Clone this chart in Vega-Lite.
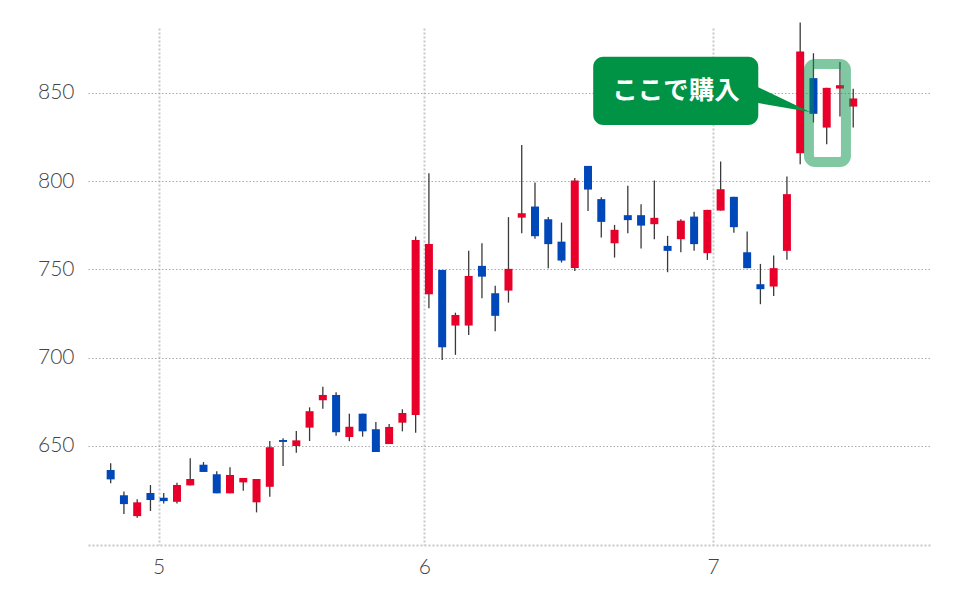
{
  "$schema": "https://vega.github.io/schema/vega-lite/v6.json",
  "width": 842,
  "height": 517,
  "autosize": {"type": "none"},
  "padding": {"left": 88, "top": 28, "right": 30, "bottom": 55},
  "background": "white",
  "config": {"view": {"stroke": null}, "font": "Lato"},
  "data": {"values": [
    {"i": 0, "o": 636.4, "c": 631.1, "h": 640.2, "l": 628.9},
    {"i": 1, "o": 622.1, "c": 617.1, "h": 624.3, "l": 611.5},
    {"i": 2, "o": 610.3, "c": 618.1, "h": 619.8, "l": 609.4},
    {"i": 3, "o": 623.4, "c": 619.4, "h": 627.9, "l": 613.2},
    {"i": 4, "o": 620.7, "c": 618.8, "h": 623.4, "l": 617.5},
    {"i": 5, "o": 618.4, "c": 627.9, "h": 629.2, "l": 617.5},
    {"i": 6, "o": 627.7, "c": 631.3, "h": 643.0, "l": 627.7},
    {"i": 7, "o": 639.4, "c": 635.3, "h": 640.9, "l": 635.3},
    {"i": 8, "o": 634.0, "c": 623.2, "h": 635.7, "l": 623.2},
    {"i": 9, "o": 623.2, "c": 633.6, "h": 637.9, "l": 623.2},
    {"i": 10, "o": 629.4, "c": 631.9, "h": 631.9, "l": 624.7},
    {"i": 11, "o": 618.1, "c": 631.3, "h": 631.3, "l": 612.4},
    {"i": 12, "o": 626.9, "c": 649.3, "h": 652.8, "l": 621.3},
    {"i": 13, "o": 653.4, "c": 652.3, "h": 654.4, "l": 638.7},
    {"i": 14, "o": 650.0, "c": 653.2, "h": 658.5, "l": 646.2},
    {"i": 15, "o": 660.4, "c": 669.7, "h": 671.9, "l": 652.8},
    {"i": 16, "o": 675.9, "c": 678.9, "h": 683.6, "l": 671.1},
    {"i": 17, "o": 678.9, "c": 657.8, "h": 680.4, "l": 655.8},
    {"i": 18, "o": 655.1, "c": 660.9, "h": 668.3, "l": 652.7},
    {"i": 19, "o": 668.3, "c": 658.3, "h": 668.3, "l": 655.3},
    {"i": 20, "o": 659.5, "c": 646.6, "h": 663.6, "l": 646.6},
    {"i": 21, "o": 651.1, "c": 660.8, "h": 662.5, "l": 651.1},
    {"i": 22, "o": 663.2, "c": 668.7, "h": 670.8, "l": 658.3},
    {"i": 23, "o": 667.6, "c": 766.7, "h": 768.6, "l": 657.5},
    {"i": 24, "o": 735.9, "c": 764.4, "h": 804.5, "l": 728.0},
    {"i": 25, "o": 749.7, "c": 705.9, "h": 749.7, "l": 698.7},
    {"i": 26, "o": 718.2, "c": 724.2, "h": 725.5, "l": 701.6},
    {"i": 27, "o": 718.2, "c": 746.3, "h": 760.6, "l": 712.9},
    {"i": 28, "o": 752.0, "c": 745.9, "h": 764.8, "l": 733.7},
    {"i": 29, "o": 736.5, "c": 723.7, "h": 740.8, "l": 715.0},
    {"i": 30, "o": 738.0, "c": 750.3, "h": 779.6, "l": 731.2},
    {"i": 31, "o": 779.3, "c": 781.8, "h": 820.5, "l": 770.5},
    {"i": 32, "o": 785.6, "c": 768.8, "h": 799.2, "l": 767.3},
    {"i": 33, "o": 778.4, "c": 764.3, "h": 779.6, "l": 750.7},
    {"i": 34, "o": 765.7, "c": 755.0, "h": 776.5, "l": 753.9},
    {"i": 35, "o": 750.8, "c": 800.3, "h": 801.7, "l": 749.1},
    {"i": 36, "o": 808.6, "c": 795.2, "h": 808.6, "l": 783.0},
    {"i": 37, "o": 789.8, "c": 776.9, "h": 790.9, "l": 768.0},
    {"i": 38, "o": 764.8, "c": 772.4, "h": 775.2, "l": 756.7},
    {"i": 39, "o": 780.7, "c": 777.9, "h": 797.3, "l": 770.5},
    {"i": 40, "o": 780.7, "c": 774.8, "h": 786.9, "l": 761.8},
    {"i": 41, "o": 775.6, "c": 779.2, "h": 800.3, "l": 767.1},
    {"i": 42, "o": 763.3, "c": 760.5, "h": 769.0, "l": 748.4},
    {"i": 43, "o": 767.1, "c": 777.6, "h": 778.4, "l": 759.7},
    {"i": 44, "o": 779.9, "c": 764.3, "h": 782.6, "l": 760.5},
    {"i": 45, "o": 759.2, "c": 783.7, "h": 783.7, "l": 755.4},
    {"i": 46, "o": 783.3, "c": 795.4, "h": 811.1, "l": 783.3},
    {"i": 47, "o": 791.1, "c": 773.9, "h": 791.1, "l": 770.8},
    {"i": 48, "o": 759.7, "c": 750.7, "h": 771.4, "l": 750.7},
    {"i": 49, "o": 741.6, "c": 738.8, "h": 753.1, "l": 730.3},
    {"i": 50, "o": 740.3, "c": 750.7, "h": 757.8, "l": 735.0},
    {"i": 51, "o": 760.5, "c": 792.6, "h": 802.6, "l": 755.4},
    {"i": 52, "o": 815.8, "c": 873.4, "h": 889.8, "l": 809.6},
    {"i": 53, "o": 858.3, "c": 838.1, "h": 872.4, "l": 833.2},
    {"i": 54, "o": 830.3, "c": 852.8, "h": 852.8, "l": 820.9},
    {"i": 55, "o": 852.4, "c": 854.3, "h": 867.4, "l": 836.6},
    {"i": 56, "o": 842.2, "c": 846.8, "h": 852.3, "l": 830.3}
  ]},
  "layer": [
    {
      "mark": {"type": "rule", "color": "#3a3a3a", "strokeWidth": 1.3, "clip": false},
      "encoding": {
        "x": {"field": "i", "type": "quantitative", "title": null,
          "scale": {"domain": [-1.71, 61.79], "nice": false, "zero": false, "padding": 0},
          "axis": {"values": [3.62, 23.65, 45.44],
            "labelExpr": "datum.value < 10 ? '5' : (datum.value < 30 ? '6' : '7')",
            "title": null, "ticks": false, "grid": true,
            "gridDash": [2, 2], "gridColor": "#c8c8c8", "gridWidth": 2,
            "domain": true, "domainDash": [2, 2], "domainColor": "#c8c8c8", "domainWidth": 2,
            "labelFont": "Lato", "labelFontSize": 21, "labelFontWeight": 300,
            "labelColor": "#444444", "labelPadding": 11}},
        "y": {"field": "l", "type": "quantitative", "title": null,
          "scale": {"domain": [593.94, 886.69], "nice": false, "zero": false, "padding": 0},
          "axis": {"values": [650, 700, 750, 800, 850], "title": null,
            "ticks": false, "domain": false, "grid": true,
            "gridDash": [1.5, 2], "gridColor": "#aaaaaa", "gridWidth": 1,
            "labelFont": "Lato", "labelFontSize": 21, "labelFontWeight": 300,
            "labelColor": "#444444", "labelPadding": 14}},
        "y2": {"field": "h"}
      }
    },
    {
      "mark": {"type": "bar", "size": 8},
      "encoding": {
        "x": {"field": "i", "type": "quantitative", "title": null},
        "y": {"field": "o", "type": "quantitative", "title": null},
        "y2": {"field": "c"},
        "color": {"condition": {"test": "datum.c >= datum.o", "value": "#e8002a"}, "value": "#0047ba"}
      }
    },
    {
      "data": {"values": [{"a": 1}]},
      "mark": {"type": "rect", "fill": null, "fillOpacity": 0, "stroke": "#009245", "strokeOpacity": 0.5, "strokeWidth": 10, "cornerRadius": 6},
      "encoding": {
        "x": {"datum": 52.66, "type": "quantitative", "title": null},
        "x2": {"datum": 55.45},
        "y": {"datum": 866.3, "type": "quantitative", "title": null},
        "y2": {"datum": 810.8}
      }
    },
    {
      "data": {"values": [
        {"px": 48.36, "top": 854.9, "bot": 844.8},
        {"px": 52.74, "top": 839.1, "bot": 839.1}
      ]},
      "mark": {"type": "area", "color": "#009245", "opacity": 1},
      "encoding": {
        "x": {"field": "px", "type": "quantitative", "title": null},
        "y": {"field": "top", "type": "quantitative", "title": null},
        "y2": {"field": "bot"}
      }
    },
    {
      "data": {"values": [{"a": 1}]},
      "mark": {"type": "rect", "color": "#009245", "cornerRadius": 10},
      "encoding": {
        "x": {"datum": 36.39, "type": "quantitative", "title": null},
        "x2": {"datum": 48.84},
        "y": {"datum": 870.4, "type": "quantitative", "title": null},
        "y2": {"datum": 831.8}
      }
    },
    {
      "data": {"values": [{"label": "ここで購入"}]},
      "mark": {"type": "text", "color": "white", "font": "Noto Sans CJK JP", "fontWeight": "bold", "fontSize": 25.5, "align": "center", "baseline": "middle"},
      "encoding": {
        "x": {"datum": 42.63, "type": "quantitative", "title": null},
        "y": {"datum": 851.0, "type": "quantitative", "title": null},
        "text": {"field": "label"}
      }
    }
  ]
}
